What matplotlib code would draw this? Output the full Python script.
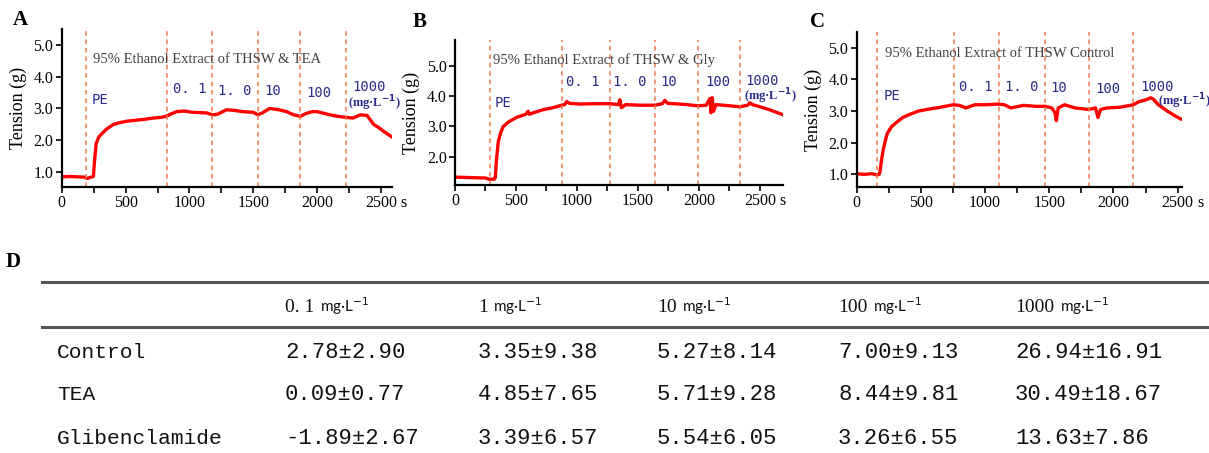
import matplotlib
matplotlib.use("Agg")
import matplotlib.pyplot as plt
from matplotlib.offsetbox import TextArea, HPacker, AnnotationBbox

# ---------------- data ----------------
# Panel A: 95% Ethanol Extract of THSW & TEA
a_t = [0, 60, 120, 180, 200, 230, 248, 258, 270, 290, 313, 350, 405, 450, 509, 580, 650, 720, 780,
       822, 850, 900, 960, 1020, 1080, 1135, 1180, 1220, 1260, 1290, 1350, 1420, 1500, 1535, 1570,
       1610, 1630, 1700, 1760, 1815, 1867, 1910, 1960, 1997, 2050, 2100, 2150, 2222, 2280, 2310,
       2337, 2390, 2441, 2480, 2520, 2585]
a_v = [0.85, 0.86, 0.85, 0.84, 0.80, 0.84, 0.86, 1.4, 1.9, 2.1, 2.2, 2.35, 2.5, 2.55, 2.6, 2.63,
       2.66, 2.7, 2.72, 2.76, 2.82, 2.9, 2.92, 2.88, 2.87, 2.86, 2.8, 2.82, 2.9, 2.96, 2.94, 2.9,
       2.88, 2.8, 2.86, 2.96, 3.0, 2.96, 2.9, 2.8, 2.75, 2.84, 2.9, 2.9, 2.85, 2.8, 2.76, 2.72,
       2.7, 2.75, 2.8, 2.78, 2.5, 2.4, 2.28, 2.1]
a_dash = [191, 828, 1180, 1535, 1867, 2222]

# Panel B: 95% Ethanol Extract of THSW & Gly
b_t = [0, 80, 160, 250, 280, 320, 330, 340, 355, 375, 396, 440, 505, 580, 600, 610, 642, 720, 806,
       874, 900, 915, 940, 1025, 1150, 1270, 1340, 1352, 1365, 1400, 1520, 1640, 1700, 1721, 1745,
       1800, 1900, 1995, 2060, 2090, 2100, 2110, 2120, 2140, 2200, 2336, 2400, 2418, 2440, 2500,
       2580, 2680]
b_v = [1.33, 1.32, 1.31, 1.3, 1.26, 1.26, 1.3, 1.9, 2.5, 2.8, 3.0, 3.15, 3.3, 3.4, 3.5, 3.4, 3.45,
       3.55, 3.62, 3.7, 3.72, 3.82, 3.76, 3.74, 3.75, 3.75, 3.72, 3.88, 3.62, 3.72, 3.7, 3.7, 3.75,
       3.86, 3.76, 3.75, 3.72, 3.68, 3.7, 3.92, 3.45, 3.95, 3.5, 3.72, 3.7, 3.65, 3.7, 3.78, 3.72,
       3.65, 3.55, 3.4]
b_dash = [287, 874, 1270, 1639, 1995, 2336]

# Panel C: 95% Ethanol Extract of THSW Control
c_t = [0, 60, 120, 160, 175, 182, 195, 208, 225, 239, 270, 312, 360, 416, 480, 545, 650, 753, 800,
       850, 920, 1000, 1100, 1150, 1200, 1300, 1400, 1470, 1520, 1545, 1555, 1570, 1620, 1700, 1808,
       1860, 1880, 1900, 1950, 2050, 2156, 2200, 2250, 2290, 2310, 2350, 2420, 2480, 2525]
c_v = [1.02, 1.0, 1.02, 0.98, 1.0, 1.1, 1.5, 1.8, 2.1, 2.3, 2.5, 2.65, 2.8, 2.9, 3.0, 3.05, 3.12,
       3.2, 3.18, 3.1, 3.2, 3.2, 3.22, 3.2, 3.1, 3.18, 3.15, 3.15, 3.1, 2.95, 2.7, 3.1, 3.2, 3.1,
       3.05, 3.1, 2.8, 3.05, 3.1, 3.12, 3.2, 3.3, 3.35, 3.42, 3.38, 3.2, 3.0, 2.85, 2.75]
c_dash = [161, 761, 1112, 1470, 1808, 2156]

titles = ["95% Ethanol Extract of THSW & TEA",
          "95% Ethanol Extract of THSW & Gly",
          "95% Ethanol Extract of THSW Control"]
conc_labels = ["PE", "0. 1", "1. 0", "10", "100", "1000"]
x_ticks = [0, 500, 1000, 1500, 2000, 2500]
x_ticklabels = ["0", "500", "1000", "1500", "2000", "2500"]

# Panel D table
col_nums = ["0. 1", "1", "10", "100", "1000"]
row_names = ["Control", "TEA", "Glibenclamide"]
cells = [
    ["2.78±2.90", "3.35±9.38", "5.27±8.14", "7.00±9.13", "26.94±16.91"],
    ["0.09±0.77", "4.85±7.65", "5.71±9.28", "8.44±9.81", "30.49±18.67"],
    ["-1.89±2.67", "3.39±6.57", "5.54±6.05", "3.26±6.55", "13.63±7.86"],
]

# ---------------- figure ----------------
W, H = 1209, 453
fig = plt.figure(figsize=(W / 100, H / 100), dpi=100)
fig.patch.set_facecolor("white")

def fx(px):
    return px / W

def fy(py):
    return 1 - py / H

RED = "#ff0000"
DASH = "#f07850"
BLUE = "#2a2a8a"
SERIF = "Liberation Serif"
MONO = "DejaVu Sans Mono"

panels = [
    dict(rect=(61.7, 29, 392, 187), t=a_t, v=a_v, dash=a_dash, xlim=(0, 2585), ylim=(0.53, 5.5),
         yticks=[1.0, 2.0, 3.0, 4.0, 5.0], title=(245, 4.53),
         labels=[(235, 3.26), (869, 3.6), (1227, 3.56), (1587, 3.56), (1914, 3.5), (2272, 3.66)],
         unit=(2240, 3.16), letter=("A", 20, 20)),
    dict(rect=(455, 40, 783, 185), t=b_t, v=b_v, dash=b_dash, xlim=(0, 2690), ylim=(1.07, 5.85),
         yticks=[2.0, 3.0, 4.0, 5.0], title=(309, 5.19),
         labels=[(328, 3.78), (910, 4.47), (1298, 4.47), (1686, 4.47), (2049, 4.47), (2377, 4.5)],
         unit=(2369, 4.0), letter=("B", 420, 22)),
    dict(rect=(856.7, 32, 1181.7, 187), t=c_t, v=c_v, dash=c_dash, xlim=(0, 2532), ylim=(0.6, 5.5),
         yticks=[1.0, 2.0, 3.0, 4.0, 5.0], title=(221, 4.82),
         labels=[(208, 3.48), (800, 3.76), (1156, 3.76), (1512, 3.72), (1857, 3.69), (2208, 3.76)],
         unit=(2345, 3.3), letter=("C", 818, 22)),
]

for i, p in enumerate(panels):
    l, t, r, b = p["rect"]
    ax = fig.add_axes([fx(l), fy(b), fx(r - l), (b - t) / H])
    ax.plot(p["t"], p["v"], color=RED, lw=2.4, solid_joinstyle="round")
    for d in p["dash"]:
        ax.axvline(d, color=DASH, lw=1.1, ls=(0, (3, 2.5)))
    ax.set_xlim(*p["xlim"])
    ax.set_ylim(*p["ylim"])
    ax.set_xticks(x_ticks)
    ax.set_xticklabels(x_ticklabels, fontsize=11.5, family=SERIF)
    ax.set_xticks(range(250, 2600, 500), minor=True)
    ax.set_yticks(p["yticks"])
    ax.set_yticklabels([f"{y:.1f}" for y in p["yticks"]], fontsize=11.5, family=SERIF)
    ax.tick_params(axis="both", which="both", direction="out", length=4, width=1.2, pad=2)
    for s in ["top", "right"]:
        ax.spines[s].set_visible(False)
    for s in ["left", "bottom"]:
        ax.spines[s].set_linewidth(1.6)
    ax.set_ylabel("Tension (g)", fontsize=13, family=SERIF, labelpad=5)
    ax.annotate("s", xy=(2500, 0), xycoords=("data", "axes fraction"),
                xytext=(14, -6), textcoords="offset points", ha="left", va="top",
                fontsize=11.5, family=SERIF, annotation_clip=False)
    tx, ty = p["title"]
    ax.text(tx, ty, titles[i], fontsize=10.5, family=SERIF, color="#404040", va="center", ha="left")
    for (lx, ly), lab in zip(p["labels"], conc_labels):
        ax.text(lx, ly, lab, fontsize=10, family=MONO, color=BLUE, va="center", ha="left")
    ux, uy = p["unit"]
    ax.text(ux, uy, r"(mg·L$^{\mathbf{-1}}$)", fontsize=9, family=SERIF, fontweight="bold",
            color=BLUE, va="center", ha="left")
    let, lxp, lyp = p["letter"]
    fig.text(fx(lxp), fy(lyp), let, fontsize=15, family=SERIF, fontweight="bold",
             ha="center", va="center")

# ---------------- panel D: table ----------------
fig.text(fx(13), fy(262), "D", fontsize=15, family=SERIF, fontweight="bold", ha="center", va="center")
rule_color = "#555555"
for yy in (282, 327):
    fig.add_artist(plt.Line2D([fx(42), fx(1209)], [fy(yy), fy(yy)], color=rule_color, lw=2.2))

col_x = [285, 478, 657, 838, 1015]
for cx, num in zip(col_x, col_nums):
    ta1 = TextArea(num, textprops=dict(fontsize=14, family=SERIF, color="#111111"))
    ta2 = TextArea(r"mg·L$^{-1}$", textprops=dict(fontsize=11, family="Lato", color="#111111"))
    pack = HPacker(children=[ta1, ta2], sep=4, pad=0, align="baseline")
    ab = AnnotationBbox(pack, (fx(cx), fy(306)), xycoords="figure fraction",
                        box_alignment=(0, 0.5), frameon=False, pad=0)
    fig.add_artist(ab)

row_y = [352, 395, 438]
for ry, name, row in zip(row_y, row_names, cells):
    fig.text(fx(57), fy(ry), name, fontsize=15.3, family="Liberation Mono", color="#111111",
             ha="left", va="center")
    for cx, val in zip(col_x, row):
        fig.text(fx(cx), fy(ry), val, fontsize=16, family="Liberation Mono", color="#111111",
                 ha="left", va="center")

fig.savefig("out.png", dpi=100, facecolor="white")
